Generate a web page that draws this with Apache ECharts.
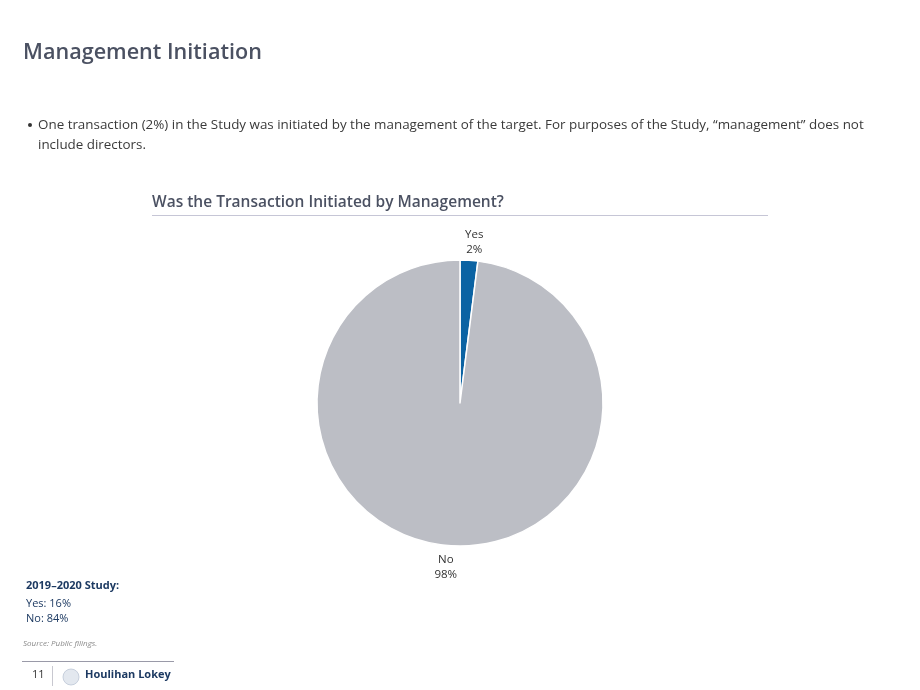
<!DOCTYPE html>
<html><head><meta charset="utf-8">
<script src="https://cdn.jsdelivr.net/npm/echarts@6/dist/echarts.min.js"></script>
<style>html,body{margin:0;padding:0;background:#fff}#c{width:920px;height:690px}</style>
</head><body><div id="c"></div>
<script>
const categories = ['Yes', 'No'];
const values = [2, 98];
const colors = ['#0b63a3', '#bcbec5'];
const priorStudy = ['Yes: 16%', 'No: 84%'];

const F = '"Open Sans", "Noto Sans", sans-serif';
const CY = 403;
const chart = echarts.init(document.getElementById('c'));
chart.setOption({
  animation: false,
  series: [{
    type: 'pie',
    center: [460, CY],
    radius: [0, 143],
    startAngle: 90,
    clockwise: true,
    data: categories.map((c, i) => ({ name: c, value: values[i], itemStyle: { color: colors[i] } })),
    itemStyle: { borderColor: '#fff', borderWidth: 1.5 },
    label: {
      show: true, position: 'outside', formatter: '{b}\n{c}%',
      fontFamily: F, fontSize: 11.5, color: '#333', lineHeight: 15, align: 'center'
    },
    labelLine: { show: false, length: 4, length2: 0 },
    labelLayout: function (p) {
      const r = p.labelRect;
      const above = r.y + r.height / 2 < CY;
      return { align: 'center', dy: above ? -r.height / 2 + 1 : r.height / 2 + 3 };
    },
    emphasis: { disabled: true }
  }],
  graphic: [
    { type: 'text', left: 23, top: 42, style: { text: 'Management Initiation', font: '600 21.6px ' + F, fill: '#4b5162' } },
    { type: 'circle', shape: { cx: 30, cy: 125, r: 2 }, style: { fill: '#333' } },
    { type: 'text', left: 38, top: 115, style: { text: 'One transaction (2%) in the Study was initiated by the management of the target. For purposes of the Study, \u201cmanagement\u201d does not\ninclude directors.', font: '13.4px ' + F, fill: '#3a3a3a', lineHeight: 20 } },
    { type: 'text', left: 152, top: 195, style: { text: 'Was the Transaction Initiated by Management?', font: '600 15.5px ' + F, fill: '#4b5162' } },
    { type: 'line', shape: { x1: 152, y1: 215.5, x2: 768, y2: 215.5 }, style: { stroke: '#c6c6d6', lineWidth: 1 } },
    { type: 'text', left: 26, top: 580, style: { text: '2019\u20132020 Study:', font: 'bold 11px ' + F, fill: '#1d3a62' } },
    { type: 'text', left: 26, top: 596, style: { text: priorStudy.join('\n'), font: '11px ' + F, fill: '#1d3a62', lineHeight: 15.5 } },
    { type: 'text', left: 23, top: 640, style: { text: 'Source: Public filings.', font: 'italic 8px ' + F, fill: '#8a8a8a' } },
    { type: 'line', shape: { x1: 22, y1: 661.5, x2: 174, y2: 661.5 }, style: { stroke: '#9a9aa8', lineWidth: 1 } },
    { type: 'text', left: 32, top: 669, style: { text: '11', font: '11px ' + F, fill: '#333' } },
    { type: 'line', shape: { x1: 52.5, y1: 666, x2: 52.5, y2: 686 }, style: { stroke: '#c8c8d0', lineWidth: 1 } },
    { type: 'circle', shape: { cx: 71, cy: 677, r: 8 }, style: { fill: '#e3e8ef', stroke: '#bcc7d6', lineWidth: 0.8 } },
    { type: 'text', left: 85, top: 669, style: { text: 'Houlihan Lokey', font: 'bold 11px ' + F, fill: '#1d3a62' } }
  ]
});
</script></body></html>
